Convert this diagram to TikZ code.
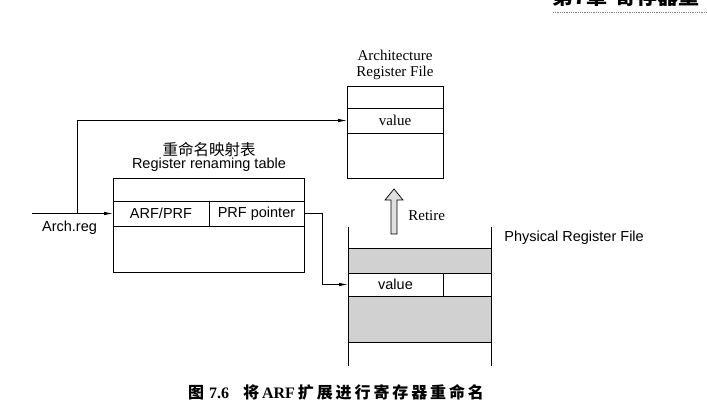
\documentclass[tikz,border=0pt]{standalone}
\usepackage{fontspec}
\setmainfont{Liberation Serif}
\setsansfont{Liberation Sans}
\newfontfamily\cjk{Noto Sans CJK SC}
\newfontfamily\capcjk[LetterSpace=18]{Noto Sans CJK SC}
\usetikzlibrary{arrows.meta}
\definecolor{shade}{gray}{0.82}

\begin{document}
\begin{tikzpicture}[
		x=1pt, y=-1pt,
		line width=0.8pt,
		>={Latex[length=9pt,width=3.5pt]},
		cell/.style 2 args={draw, inner sep=0pt, outer sep=0pt, minimum width=#1pt, minimum height=#2pt},
		lbl/.style={inner sep=0pt, font=\fontsize{15}{16}\selectfont},
		slbl/.style={inner sep=0pt, font=\sffamily\fontsize{14.5}{16}\selectfont},
		cjklbl/.style={inner sep=0pt, font=\cjk\fontsize{15.5}{16}\selectfont}
		]
		\useasboundingbox (0,0) rectangle (707,406);
		
		% page header
		\node[anchor=base west, inner sep=0pt, font=\cjk\bfseries\fontsize{21}{21}\selectfont] (head) at (552,5) {第7章\hspace{8pt}寄存器重};
		\draw[densely dotted, gray] (553,12) -- (707,12);
		
		% architecture register file
		\node[lbl, align=center] (arftitle) at (395,65) {Architecture\\Register File};
		\node[cell={96}{22}] (arf0) at (395,97) {};
		\node[cell={96}{25}, lbl] (arfval) at (395,120.5) {value};
		\node[cell={96}{45}] (arf2) at (395,155.5) {};
		
		% renaming table
		\node[cjklbl] (rrtcn) at (209,150) {重命名映射表};
		\node[slbl] (rrttitle) at (209,165) {Register renaming table};
		\node[cell={191}{23}] (rrt0) at (208.5,189.5) {};
		\node[cell={96}{25}, slbl] (arfprf) at (161,213.5) {ARF/PRF};
		\node[cell={95}{25}, slbl] (prfptr) at (256.5,213.5) {PRF pointer};
		\node[cell={191}{46}] (rrt2) at (208.5,249) {};
		
		% physical register file
		\node[cell={143}{25}, fill=shade] (prf0) at (419.5,260.5) {};
		\node[cell={95}{23}, slbl] (prfval) at (395.5,284.5) {value};
		\node[cell={48}{23}] (prf1) at (467,284.5) {};
		\node[cell={143}{46}, fill=shade] (prf2) at (419.5,319) {};
		\draw (348,227) -- (348,366);
		\draw (491,227) -- (491,366);
		\node[slbl, anchor=west] (prftitle) at (504,238) {Physical Register File};
		
		% retire
		\draw[fill=gray!25, line width=0.7pt] (391,234) -- (391,200) -- (385,200) -- (394,189) -- (403,200) -- (397,200) -- (397,234) -- cycle;
		\node[lbl, anchor=west] (retire) at (408,216) {Retire};
		
		% connectors
		\coordinate (archin) at (32,213.5);
		\coordinate (split) at (77,213.5);
		\draw[->] (archin) -- (arfprf.west);
		\draw[->] (split) |- (arfval.west);
		\node[slbl] (archreg) at (69.5,228) {Arch.reg};
		\draw[->] (prfptr.east) -- ++(18,0) |- (prfval.west);
		
		% caption
		\node[inner sep=0pt, font=\bfseries\fontsize{16}{17}\selectfont] (cap) at (336,392) {{\cjk 图}\hspace{5pt}7.6\hspace{14pt}{\cjk 将}\hspace{3pt}ARF\hspace{3pt}{\capcjk 扩展进行寄存器重命名}};
		\end{tikzpicture}
\end{document}
